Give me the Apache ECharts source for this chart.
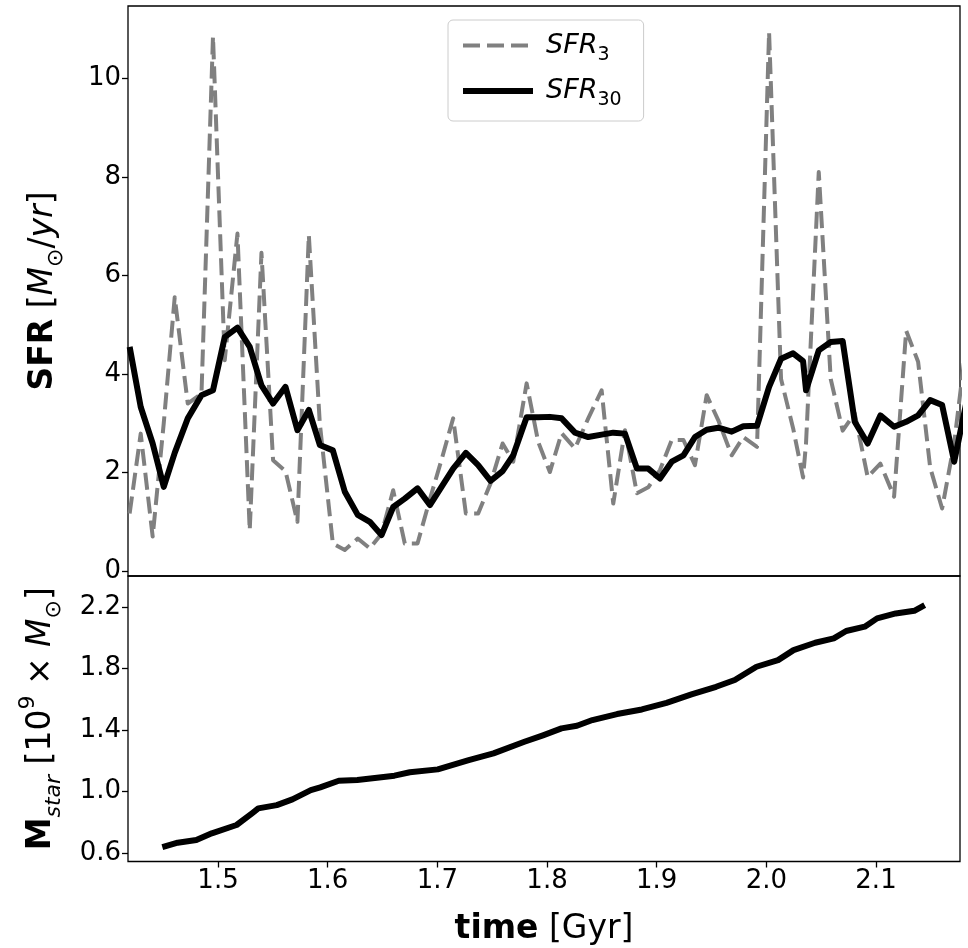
<!DOCTYPE html>
<html><head><meta charset="utf-8">
<script src="https://cdn.jsdelivr.net/npm/echarts@6/dist/echarts.min.js"></script>
<style>html,body{margin:0;padding:0;background:#fff;}#c{width:968px;height:948px;}</style>
</head><body><div id="c"></div>
<script>
// ---- data ----
const times = [1.4194,1.4295,1.4404,1.4505,1.4605,1.4724,1.4849,1.4954,1.5061,1.5177,
  1.5289,1.5396,1.5502,1.5615,1.5724,1.5828,1.5928,1.6047,1.6156,1.6274,
  1.6384,1.6491,1.6597,1.6703,1.6819,1.6932,1.7038,1.7144,1.7260,1.7372,
  1.7485,1.7595,1.7692,1.7814,1.7920,1.8026,1.8133,1.8255,1.8376,1.8498,
  1.8604,1.8711,1.8820,1.8923,1.9030,1.9137,1.9244,1.9349,1.9456,1.9562,
  1.9684,1.9790,1.9915,2.0025,2.0134,2.0244,2.0335,2.0362,2.0478,2.0587,
  2.0696,2.0806,2.0924,2.1040,2.1165,2.1275,2.1384,2.1494,2.1603,2.1713,2.1822];
const sfr3 = [1.17,2.79,0.70,3.00,5.56,3.40,3.60,10.85,4.28,6.85,
  0.83,6.46,2.25,2.03,1.00,6.82,3.00,0.56,0.43,0.66,
  0.46,0.76,1.64,0.56,0.56,1.46,2.26,3.10,1.17,1.17,
  1.78,2.59,2.22,3.81,2.62,2.01,2.80,2.49,3.10,3.67,
  1.37,2.86,1.58,1.70,2.05,2.66,2.66,2.15,3.57,3.06,
  2.35,2.72,2.52,10.94,3.90,2.90,1.90,2.60,8.10,3.90,
  2.85,3.20,1.91,2.18,1.51,4.88,4.25,2.10,1.27,2.60,4.60];
const sfr30 = [4.55,3.33,2.59,1.71,2.40,3.10,3.57,3.67,4.75,4.94,
  4.55,3.77,3.40,3.74,2.86,3.27,2.56,2.45,1.61,1.14,
  1.00,0.73,1.30,1.47,1.68,1.34,1.71,2.08,2.40,2.15,
  1.83,2.03,2.35,3.12,3.12,3.13,3.10,2.81,2.72,2.77,
  2.81,2.79,2.08,2.08,1.88,2.22,2.35,2.72,2.87,2.91,
  2.83,2.94,2.95,3.74,4.31,4.42,4.26,3.67,4.48,4.65,
  4.67,3.03,2.59,3.16,2.93,3.03,3.16,3.47,3.37,2.22,3.40];
const mTimes = [1.4492,1.4632,1.4802,1.4943,1.5169,1.5310,1.5367,1.5536,1.5678,1.5846,
  1.5932,1.6101,1.6270,1.6609,1.6749,1.7004,1.7286,1.7512,1.7794,1.7963,
  1.8132,1.8273,1.8414,1.8639,1.8865,1.9090,1.9317,1.9542,1.9712,1.9910,
  2.0107,2.0248,2.0445,2.0615,2.0728,2.0897,2.1010,2.1180,2.1349,2.1444];
const mStar = [0.640,0.669,0.686,0.730,0.784,0.860,0.892,0.913,0.950,1.010,
  1.028,1.071,1.076,1.104,1.126,1.145,1.205,1.249,1.324,1.366,
  1.411,1.428,1.465,1.504,1.534,1.577,1.632,1.681,1.725,1.811,
  1.854,1.919,1.967,1.995,2.043,2.071,2.125,2.157,2.174,2.211];
const xTicks = [1.5,1.6,1.7,1.8,1.9,2.0,2.1];
const sfrTicks = [0,2,4,6,8,10];
const mTicks = [0.6,1.0,1.4,1.8,2.2];

// ---- chart ----
const FONT = 'DejaVu Sans';
const TICK_FS = 26;
const NAME_FS = 33;
const SUB_FS = 22;
const zip = (a, b) => a.map((v, i) => [v, b[i]]);
const tickStyle = {length: 6, lineStyle: {color: '#000', width: 1.3}};
const dashStyle = {color: '#808080', width: 4, type: [17, 7], cap: 'butt', join: 'round'};
const solidStyle = {color: '#000', width: 6, cap: 'butt', join: 'round'};
const nameRich = {
  b: {fontFamily: FONT, fontWeight: 'bold', fontSize: NAME_FS, color: '#000', lineHeight: 48},
  r: {fontFamily: FONT, fontSize: NAME_FS, color: '#000', lineHeight: 48},
  i: {fontFamily: FONT, fontStyle: 'italic', fontSize: NAME_FS, color: '#000', lineHeight: 48},
  sub: {fontFamily: FONT, fontSize: SUB_FS, color: '#000', lineHeight: 22, verticalAlign: 'bottom'},
  subi: {fontFamily: FONT, fontStyle: 'italic', fontSize: SUB_FS, color: '#000', lineHeight: 22, verticalAlign: 'bottom'},
  sup: {fontFamily: FONT, fontSize: SUB_FS, color: '#000', lineHeight: 28, verticalAlign: 'top'}
};
const chart = echarts.init(document.getElementById('c'), null, {renderer: 'canvas'});
chart.setOption({
  animation: false,
  backgroundColor: '#fff',
  color: ['#808080', '#000000', '#000000'],
  grid: [
    {left: 128, top: 6, width: 832, height: 570, show: true, borderColor: '#000', borderWidth: 1.3, backgroundColor: 'transparent'},
    {left: 128, top: 576, width: 832, height: 285.5, show: true, borderColor: '#000', borderWidth: 1.3, backgroundColor: 'transparent'}
  ],
  xAxis: [
    {gridIndex: 0, type: 'value', min: 1.4179, max: 2.1766,
     axisLine: {show: false}, axisTick: {show: false}, axisLabel: {show: false}, splitLine: {show: false}},
    {gridIndex: 1, type: 'value', min: 1.4179, max: 2.1766,
     axisLine: {show: false}, splitLine: {show: false},
     axisTick: Object.assign({show: true, customValues: xTicks}, tickStyle),
     axisLabel: {customValues: xTicks, formatter: v => v.toFixed(1), fontSize: TICK_FS, fontFamily: FONT, color: '#000', margin: 7},
     name: '{b|time}{r| [Gyr]}', nameLocation: 'middle', nameGap: 44,
     nameTextStyle: {rich: nameRich}}
  ],
  yAxis: [
    {gridIndex: 0, type: 'value', min: -0.1, max: 11.47,
     axisLine: {show: false}, splitLine: {show: false},
     axisTick: Object.assign({show: true, customValues: sfrTicks}, tickStyle),
     axisLabel: {customValues: sfrTicks, formatter: v => String(v), fontSize: TICK_FS, fontFamily: FONT, color: '#000', margin: 7},
     name: '{b|SFR}{r| [}{i|M}{sub|⊙}{r|/}{i|yr}{r|]}', nameLocation: 'middle', nameGap: 61, nameRotate: 90,
     nameTextStyle: {rich: nameRich}},
    {gridIndex: 1, type: 'value', min: 0.547, max: 2.40,
     axisLine: {show: false}, splitLine: {show: false},
     axisTick: Object.assign({show: true, customValues: mTicks}, tickStyle),
     axisLabel: {customValues: mTicks, formatter: v => v.toFixed(1), fontSize: TICK_FS, fontFamily: FONT, color: '#000', margin: 7},
     name: '{b|M}{subi|star}{r| [10}{sup|9}{r| × }{i|M}{sub|⊙}{r|]}', nameLocation: 'middle', nameGap: 63, nameRotate: 90,
     nameTextStyle: {rich: nameRich}}
  ],
  legend: {
    left: 448, top: 20, orient: 'vertical',
    padding: [12, 22, 11, 12], itemGap: 13, itemWidth: 70, itemHeight: 24,
    backgroundColor: 'rgba(255,255,255,0.8)', borderColor: '#cccccc', borderWidth: 1, borderRadius: 5,
    data: [
      {name: 'SFR3', itemStyle: {opacity: 0, color: 'transparent', borderWidth: 0}, lineStyle: dashStyle},
      {name: 'SFR30', itemStyle: {opacity: 0, color: 'transparent', borderWidth: 0}, lineStyle: solidStyle}
    ],
    formatter: n => n === 'SFR3' ? '{i|SFR}{s|3}' : '{i|SFR}{s|30}',
    textStyle: {rich: {
      i: {fontFamily: FONT, fontStyle: 'italic', fontSize: 27, color: '#000', lineHeight: 38, padding: [0, 0, 0, 8]},
      s: {fontFamily: FONT, fontSize: 19, color: '#000', lineHeight: 18, verticalAlign: 'bottom'}
    }}
  },
  series: [
    {name: 'SFR3', type: 'line', xAxisIndex: 0, yAxisIndex: 0, data: zip(times, sfr3),
     symbol: 'none', clip: true, z: 2, itemStyle: {color: '#808080'}, lineStyle: dashStyle},
    {name: 'SFR30', type: 'line', xAxisIndex: 0, yAxisIndex: 0, data: zip(times, sfr30),
     symbol: 'none', clip: true, z: 3, itemStyle: {color: '#000'}, lineStyle: solidStyle},
    {name: 'Mstar', type: 'line', xAxisIndex: 1, yAxisIndex: 1, data: zip(mTimes, mStar),
     symbol: 'none', clip: true, z: 3, itemStyle: {color: '#000'}, lineStyle: solidStyle}
  ]
});
</script></body></html>
